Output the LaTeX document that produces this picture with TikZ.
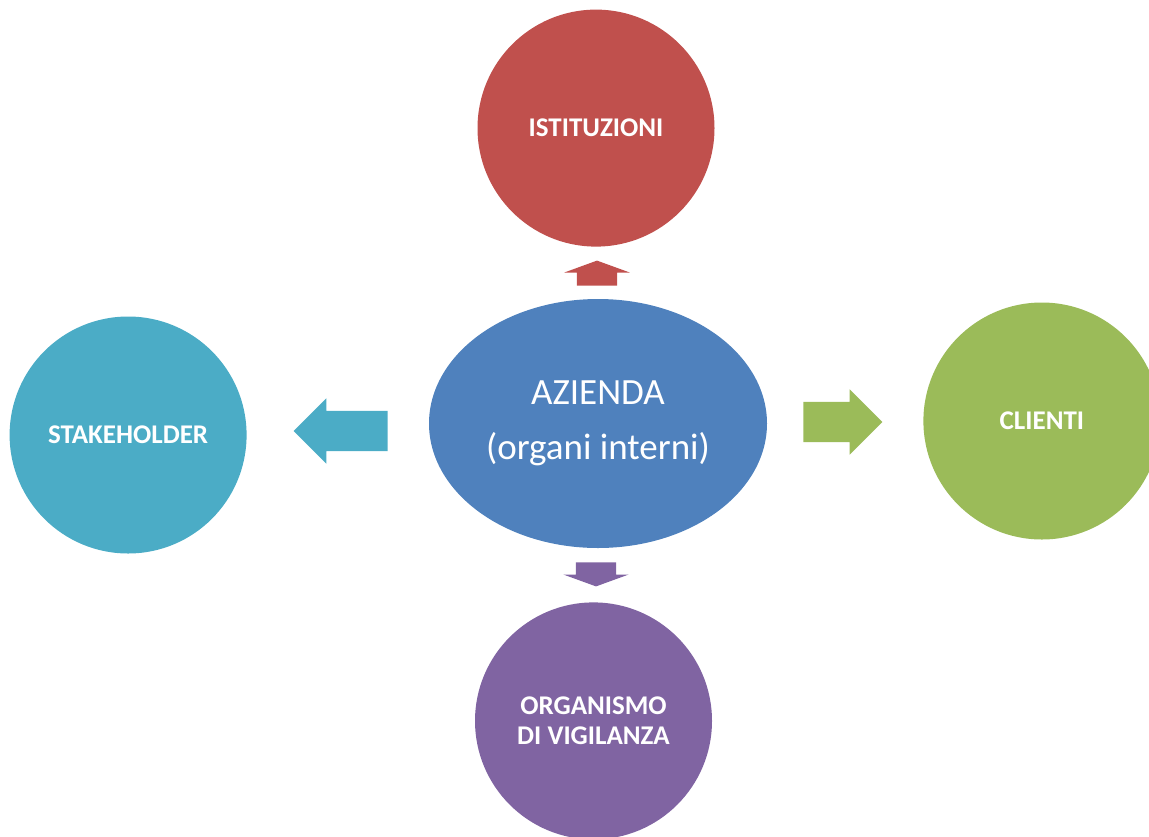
\documentclass[tikz,border=0pt]{standalone}
\usepackage{xcolor}
\usepackage{fontspec}
\setmainfont{Carlito}
\usepackage{tikz}
\usetikzlibrary{positioning,shapes,calc}

\definecolor{istred}{HTML}{C0504D}
\definecolor{azblue}{HTML}{4F81BD}
\definecolor{clgreen}{HTML}{9BBB59}
\definecolor{odvpurple}{HTML}{8064A2}
\definecolor{stkteal}{HTML}{4BACC6}

\begin{document}
\begin{tikzpicture}[x=1pt, y=1pt,
    party/.style={circle, minimum size=237pt, inner sep=0pt, text=white, align=center,
      font=\fontsize{27}{30}\selectfont\bfseries},
    core/.style={ellipse, minimum width=338pt, minimum height=249pt, inner sep=0pt, fill=azblue,
      text=white, align=center, font=\fontsize{37}{55}\selectfont},
    blockarrow/.style={single arrow, anchor=tail, inner xsep=0pt, inner ysep=20pt, minimum width=65pt,
      single arrow head extend=12.5pt}
  ]
    \useasboundingbox (0,0) rectangle (1149,-836);
    \node[core] (azienda) at (598,-423.5) {AZIENDA\\(organi interni)};
    \node[party, fill=istred, above=52pt of azienda, xshift=-2pt] (ist) {ISTITUZIONI};
    \node[party, fill=stkteal, left=182pt of azienda, yshift=-11.5pt] (stake) {STAKEHOLDER};
    \node[party, fill=clgreen, right=156pt of azienda, yshift=2.5pt] (clienti) {CLIENTI};
    \node[party, fill=odvpurple, below=54pt of azienda, xshift=-4.5pt] (odv) {ORGANISMO\\DI VIGILANZA};
    % block arrows from the centre towards each party
    \node[blockarrow, fill=istred, minimum height=25pt, single arrow tip angle=140,
      rotate=90] (toist) at ($(azienda.north)+(-1,13)$) {};
    \node[blockarrow, fill=odvpurple, minimum height=24pt, single arrow tip angle=140,
      rotate=-90] (toodv) at ($(azienda.south)+(-2,-14)$) {};
    \node[blockarrow, fill=stkteal, minimum height=94pt,
      rotate=180] (tostake) at ($(azienda.west)+(-41,-7.5)$) {};
    \node[blockarrow, fill=clgreen, minimum height=79pt] (toclienti)
      at ($(azienda.east)+(36,1.5)$) {};
  \end{tikzpicture}
\end{document}
